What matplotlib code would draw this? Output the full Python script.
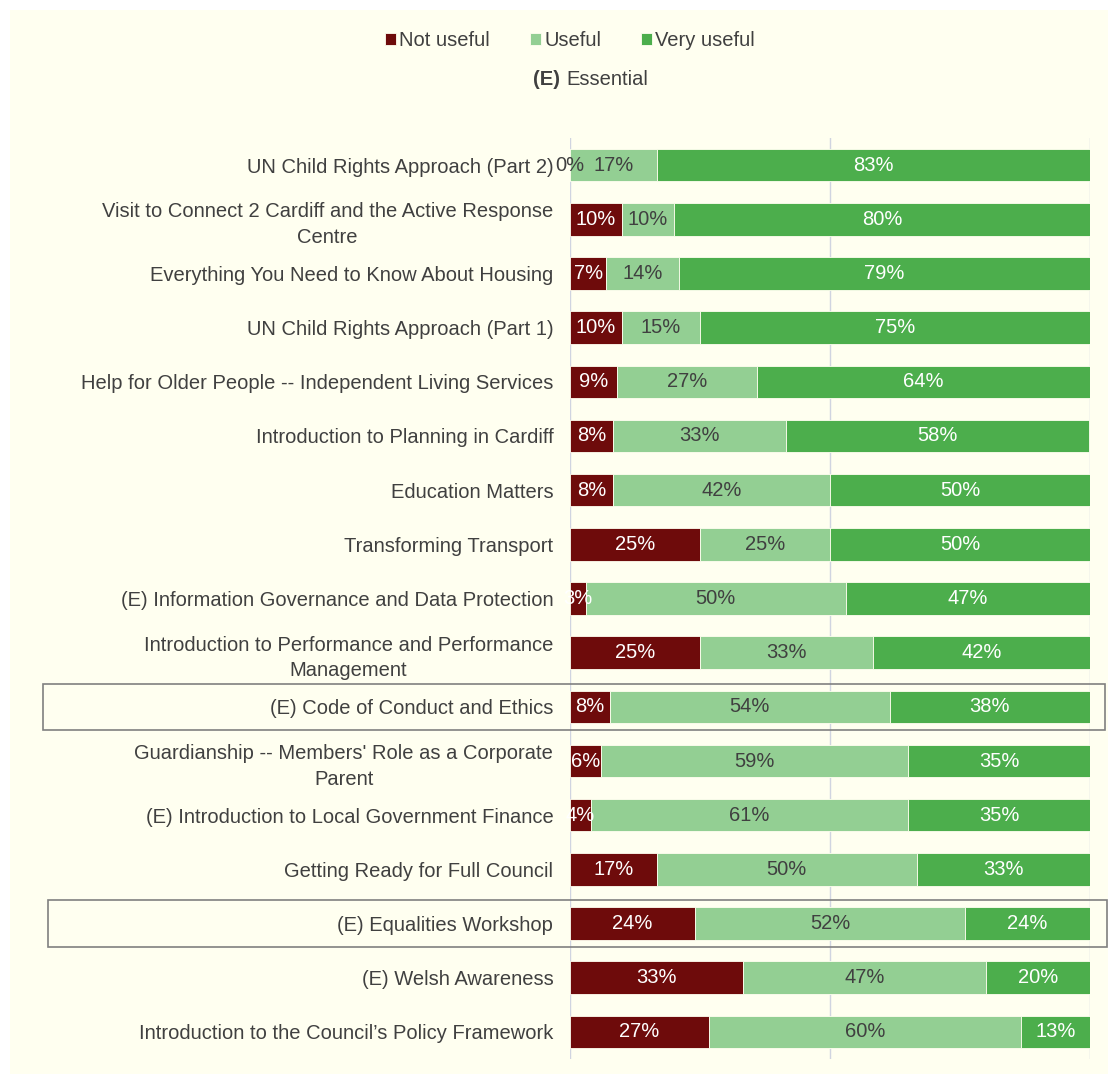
import matplotlib
matplotlib.use("Agg")
import matplotlib.pyplot as plt
import numpy as np
from matplotlib.patches import Rectangle

plt.rcParams['font.family'] = ['Liberation Sans', 'DejaVu Sans']

# courses, top to bottom
courses = [
    "UN Child Rights Approach (Part 2)",
    "Visit to Connect 2 Cardiff and the Active Response\nCentre",
    "Everything You Need to Know About Housing",
    "UN Child Rights Approach (Part 1)",
    "Help for Older People -- Independent Living Services",
    "Introduction to Planning in Cardiff",
    "Education Matters",
    "Transforming Transport",
    "(E) Information Governance and Data Protection",
    "Introduction to Performance and Performance\nManagement",
    "(E) Code of Conduct and Ethics",
    "Guardianship -- Members' Role as a Corporate\nParent",
    "(E) Introduction to Local Government Finance",
    "Getting Ready for Full Council",
    "(E) Equalities Workshop",
    "(E) Welsh Awareness",
    "Introduction to the Council\u2019s Policy Framework",
]
not_useful = [0, 10, 7, 10, 9, 8.3, 8.3, 25, 3, 25, 7.7, 6, 4, 16.7, 24, 33.3, 26.7]
useful = [16.7, 10, 14, 15, 27, 33.3, 41.7, 25, 50, 33.3, 53.8, 59, 61, 50, 52, 46.7, 60]
very_useful = [83.3, 80, 79, 75, 64, 58.3, 50, 50, 47, 41.7, 38.5, 35, 35, 33.3, 24, 20, 13.3]
boxed = ["(E) Code of Conduct and Ethics", "(E) Equalities Workshop"]

c_not = "#6e0b0b"
c_use = "#93cf93"
c_very = "#4cae4c"
bg = "#fffff0"
txt = "#404040"
fs = 14.5

fig = plt.figure(figsize=(11.08, 10.74), dpi=100)
fig.patch.set_facecolor("white")
fig.patches.append(Rectangle((10 / 1108, 0), 1, 1 - 10 / 1074, transform=fig.transFigure,
                             facecolor=bg, edgecolor="none", zorder=-10))

ax = fig.add_axes([570 / 1108, 1 - 1059 / 1074, 520 / 1108, (1059 - 138) / 1074])
ax.set_facecolor("none")

y = np.arange(len(courses))
nu = np.array(not_useful)
us = np.array(useful)
vu = np.array(very_useful)

h = 0.6
b1 = ax.barh(y, nu, height=h, color=c_not, edgecolor=bg, linewidth=0.6, label="Not useful")
b2 = ax.barh(y, us, left=nu, height=h, color=c_use, edgecolor=bg, linewidth=0.6, label="Useful")
b3 = ax.barh(y, vu, left=nu + us, height=h, color=c_very, edgecolor=bg, linewidth=0.6, label="Very useful")

for i in range(len(courses)):
    ax.text(nu[i] / 2, y[i], "%.0f%%" % nu[i], ha="center", va="center",
            color="white" if nu[i] > 0 else txt, fontsize=fs)
    ax.text(nu[i] + us[i] / 2, y[i], "%.0f%%" % us[i], ha="center", va="center",
            color=txt, fontsize=fs)
    ax.text(nu[i] + us[i] + vu[i] / 2, y[i], "%.0f%%" % vu[i], ha="center", va="center",
            color="white", fontsize=fs)

ax.set_xlim(0, 100)
ax.set_ylim(len(courses) - 0.5, -0.5)
ax.set_yticks(y)
ax.set_yticklabels(courses, fontsize=fs, color=txt, linespacing=1.45, multialignment="center")
ax.tick_params(axis="y", length=0, pad=12)
ax.set_xticks([0, 50, 100])
ax.tick_params(axis="x", bottom=False, labelbottom=False)
ax.grid(axis="x", color="#d0d4e0", linewidth=1)
ax.set_axisbelow(True)
for s in ax.spines.values():
    s.set_visible(False)

# boxes round the highlighted rows (left, right edge in pixels)
box_px = [(43, 1105), (48, 1107)]
trans = ax.get_yaxis_transform()
for name, (x0, x1) in zip(boxed, box_px):
    i = courses.index(name)
    ax.add_patch(Rectangle(((x0 - 570) / 520, i - 0.43), (x1 - x0) / 520, 0.86, transform=trans,
                           fill=False, edgecolor="#808080", linewidth=1.2, clip_on=False))

fig.legend(handles=[b1, b2, b3], loc="center", bbox_to_anchor=(570 / 1108, 1 - 41 / 1074),
           ncol=3, frameon=False, fontsize=fs, handlelength=0.55, handleheight=0.55,
           handletextpad=0.15, columnspacing=2.0, labelcolor=txt)
fig.text(560 / 1108, 1 - 79 / 1074, "(E)", fontsize=fs, color=txt, weight="bold", ha="right", va="center")
fig.text(566 / 1108, 1 - 79 / 1074, "Essential", fontsize=fs, color=txt, ha="left", va="center")

fig.savefig("out.png", dpi=100, facecolor=fig.get_facecolor())
